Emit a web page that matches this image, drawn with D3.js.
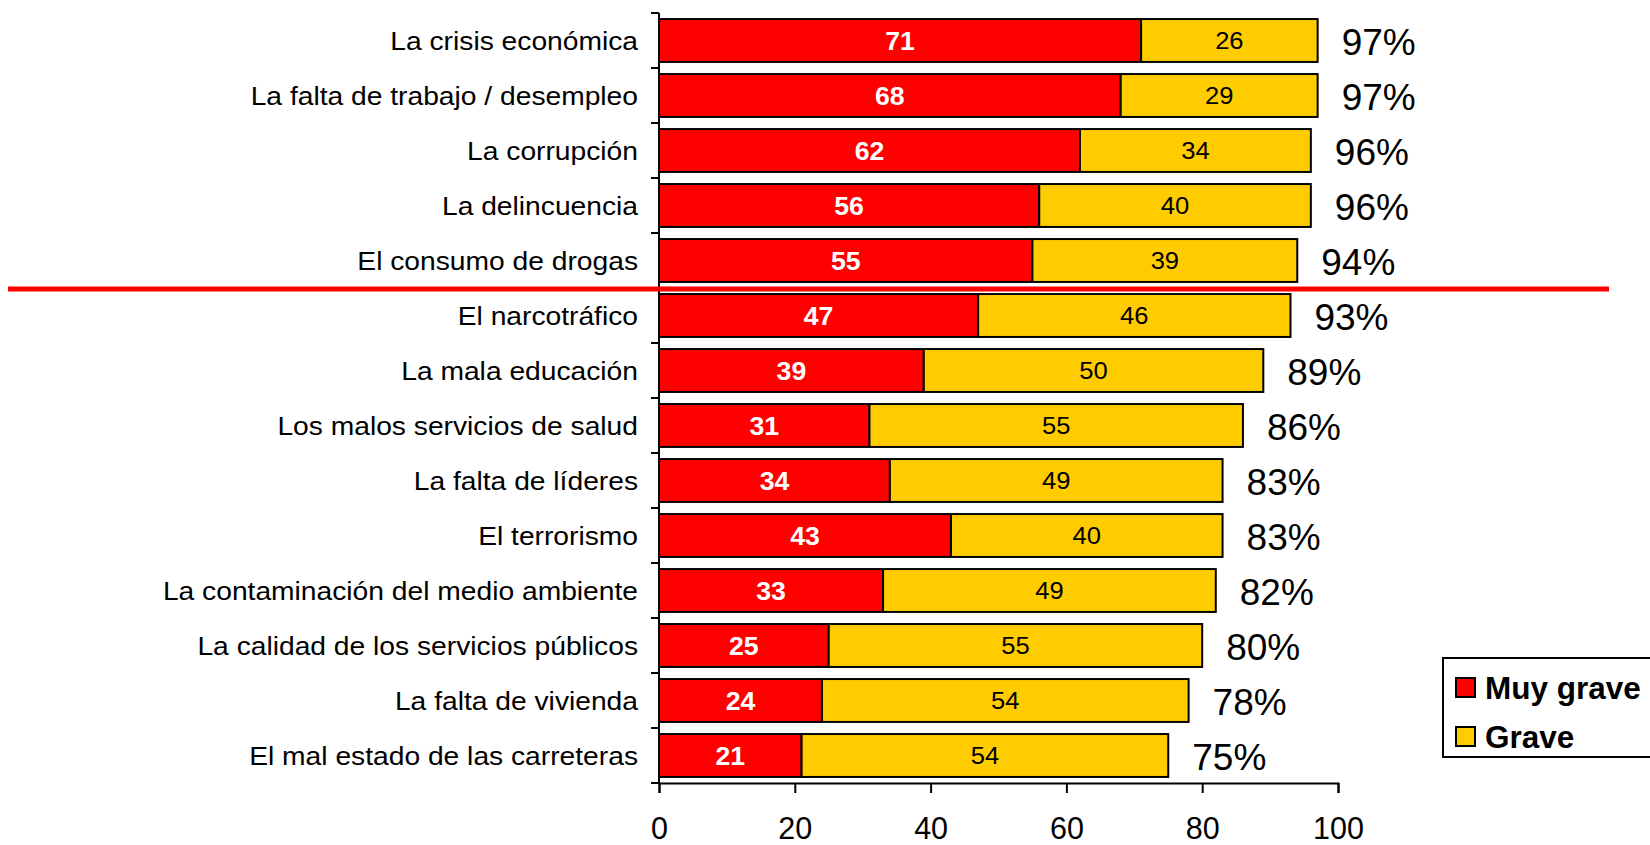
<!DOCTYPE html>
<html>
<head>
<meta charset="utf-8">
<script src="https://cdn.jsdelivr.net/npm/d3@7"></script>
<style>
  body { margin: 0; background: #fff; }
  svg { display: block; font-family: "Liberation Sans", Arial, sans-serif; }
</style>
</head>
<body>
<svg width="1650" height="845"></svg>
<script>
// data
var categories = ["La crisis económica", "La falta de trabajo / desempleo", "La corrupción",
  "La delincuencia", "El consumo de drogas", "El narcotráfico", "La mala educación",
  "Los malos servicios de salud", "La falta de líderes", "El terrorismo",
  "La contaminación del medio ambiente", "La calidad de los servicios públicos",
  "La falta de vivienda", "El mal estado de las carreteras"];
var muyGrave = [71, 68, 62, 56, 55, 47, 39, 31, 34, 43, 33, 25, 24, 21];
var grave = [26, 29, 34, 40, 39, 46, 50, 55, 49, 40, 49, 55, 54, 54];
var totals = [97, 97, 96, 96, 94, 93, 89, 86, 83, 83, 82, 80, 78, 75];
var xTicks = [0, 20, 40, 60, 80, 100];
var seriesNames = ["Muy grave", "Grave"];
var colors = ["#ff0000", "#ffcc00"];

var svg = d3.select("svg");
var plotLeft = 659, plotRight = 1338, plotTop = 13, plotBottom = 783;
var stretch = 1.065; // the original text is a bit wide

var x = d3.scaleLinear().domain([0, 100]).range([plotLeft, plotRight]);
var y = d3.scaleBand().domain(categories).range([plotTop, plotBottom]).paddingInner(0.22).paddingOuter(0.11);
var step = y.step();
var mid = d => y(d) + y.bandwidth() / 2;

// bars
var rows = svg.selectAll("g.row").data(categories).enter().append("g").attr("class", "row");

rows.append("rect")
  .attr("x", x(0))
  .attr("y", d => y(d))
  .attr("width", (d, i) => x(muyGrave[i]) - x(0))
  .attr("height", y.bandwidth())
  .attr("fill", colors[0]).attr("stroke", "#000").attr("stroke-width", 2);

rows.append("rect")
  .attr("x", (d, i) => x(muyGrave[i]))
  .attr("y", d => y(d))
  .attr("width", (d, i) => x(muyGrave[i] + grave[i]) - x(muyGrave[i]))
  .attr("height", y.bandwidth())
  .attr("fill", colors[1]).attr("stroke", "#000").attr("stroke-width", 2);

rows.append("text")
  .attr("transform", (d, i) => "translate(" + x(muyGrave[i] / 2) + "," + mid(d) + ") scale(" + stretch + ",1)")
  .attr("dy", "0.36em")
  .attr("text-anchor", "middle")
  .style("font-size", "25px").style("font-weight", "bold").style("fill", "#fff")
  .text((d, i) => muyGrave[i]);

rows.append("text")
  .attr("transform", (d, i) => "translate(" + x(muyGrave[i] + grave[i] / 2) + "," + mid(d) + ") scale(" + stretch + ",1)")
  .attr("dy", "0.36em")
  .attr("text-anchor", "middle")
  .style("font-size", "24px").style("fill", "#000")
  .text((d, i) => grave[i]);

rows.append("text")
  .attr("x", (d, i) => x(totals[i]) + 24)
  .attr("y", d => mid(d) + 1)
  .attr("dy", "0.36em")
  .style("font-size", "37px").style("fill", "#000")
  .text((d, i) => totals[i] + "%");

// category labels
rows.append("text")
  .attr("transform", d => "translate(" + (plotLeft - 21) + "," + mid(d) + ") scale(" + stretch + ",1)")
  .attr("dy", "0.36em")
  .attr("text-anchor", "end")
  .style("font-size", "26.5px").style("fill", "#000")
  .text(d => d);

// y axis line + ticks at band edges
svg.append("line").attr("x1", plotLeft).attr("x2", plotLeft).attr("y1", plotTop).attr("y2", plotBottom)
  .attr("stroke", "#000").attr("stroke-width", 2);
svg.selectAll("line.ytick").data(d3.range(categories.length + 1)).enter().append("line")
  .attr("x1", plotLeft - 8).attr("x2", plotLeft)
  .attr("y1", i => plotTop + i * step).attr("y2", i => plotTop + i * step)
  .attr("stroke", "#000").attr("stroke-width", 2);

// x axis
var xAxis = svg.append("g").attr("transform", "translate(0," + plotBottom + ")")
  .call(d3.axisBottom(x).tickValues(xTicks).tickSize(10).tickPadding(24).tickFormat(d3.format("d")));
xAxis.select(".domain").attr("stroke-width", 2);
xAxis.selectAll(".tick line").attr("stroke-width", 2);
xAxis.selectAll("text").style("font-size", "30.5px").style("font-family", "'Liberation Sans', Arial, sans-serif");

// red separator between top 5 and the rest
var sepY = plotTop + 5 * step;
svg.append("line").attr("x1", 8).attr("x2", 1609).attr("y1", sepY + 1).attr("y2", sepY + 1)
  .attr("stroke", "#ff0000").attr("stroke-width", 5);

// legend
var lg = svg.append("g");
lg.append("rect").attr("x", 1443).attr("y", 658).attr("width", 230).attr("height", 99)
  .attr("fill", "#fff").attr("stroke", "#000").attr("stroke-width", 2);
seriesNames.forEach(function(name, i) {
  lg.append("rect").attr("x", 1456).attr("y", 678 + i * 49).attr("width", 19).attr("height", 19)
    .attr("fill", colors[i]).attr("stroke", "#000").attr("stroke-width", 2);
  lg.append("text").attr("x", 1485).attr("y", 688 + i * 49).attr("dy", "0.36em")
    .style("font-size", "31.5px").style("font-weight", "bold").text(name);
});
</script>
</body>
</html>
